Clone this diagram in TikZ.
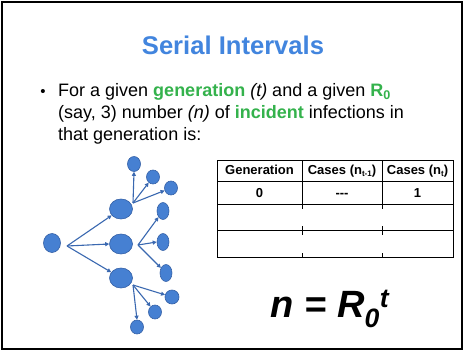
\documentclass[tikz,border=0pt]{standalone}
\usepackage{fontspec}
\setmainfont{Liberation Sans}
\usetikzlibrary{shapes.geometric,arrows.meta}
\definecolor{titleblue}{RGB}{66,133,222}
\definecolor{hlgreen}{RGB}{52,178,76}
\definecolor{nodefill}{RGB}{70,128,210}
\definecolor{nodeedge}{RGB}{52,96,166}
\definecolor{arrowblue}{RGB}{58,104,176}
\tikzset{
  person/.style={ellipse,draw=nodeedge,fill=nodefill,line width=0.6pt,inner sep=0pt},
  spread/.style={draw=arrowblue,line width=1.1pt,-{Triangle[length=4pt,width=4pt]}},
  line/.style={anchor=base west,inner sep=0pt,font=\fontsize{18}{21}\selectfont},
  cell/.style={inner sep=0pt,font=\bfseries\fontsize{13}{15}\selectfont},
  grid/.style={draw=black,line width=1pt},
}
\newcommand{\hl}[1]{\textcolor{hlgreen}{\bfseries #1}}
\newcommand{\smallsub}[1]{\raisebox{-0.25ex}{\fontsize{8}{9}\selectfont #1}}
\begin{document}
\begin{tikzpicture}[x=1pt,y=-1pt]
\useasboundingbox (0,0) rectangle (463,350);
\fill[white] (0,0) rectangle (463,350);
% slide frame
\draw[line width=2.3pt] (2.2,2.2) rectangle (461.8,348.8);

% title
\node[font=\bfseries\fontsize{25.6}{29}\selectfont,text=titleblue,anchor=base] (title) at (233,55) {Serial Intervals};

% bullet text
\node[anchor=base,inner sep=0pt,font=\fontsize{15}{17}\selectfont] (bullet) at (43,97) {•};
\node[line] (l1) at (58,97) {For a given \hl{generation} \textit{(t)} and a given \hl{R\textsubscript{0}}};
\node[line] (l2) at (58,119) {(say, 3) number \textit{(n)} of \hl{incident} infections in};
\node[line] (l3) at (58,140) {that generation is:};

% transmission tree
\node[person,minimum width=17pt,minimum height=19pt] (root) at (52,243) {};
\node[person,minimum width=23pt,minimum height=20pt] (m1) at (121,209) {};
\node[person,minimum width=23pt,minimum height=20pt] (m2) at (121,244) {};
\node[person,minimum width=23pt,minimum height=20pt] (m3) at (121,278) {};

\node[person,minimum width=13pt,minimum height=15pt] (a1) at (134,164) {};
\node[person,minimum width=13pt,minimum height=14pt] (a2) at (153,177) {};
\node[person,minimum width=13pt,minimum height=14pt] (a3) at (171,188) {};
\node[person,minimum width=12pt,minimum height=17pt] (b1) at (163,211) {};
\node[person,minimum width=12pt,minimum height=17pt] (b2) at (163,242) {};
\node[person,minimum width=12pt,minimum height=17pt] (b3) at (166,273) {};
\node[person,minimum width=14pt,minimum height=14pt] (c1) at (172,297) {};
\node[person,minimum width=13pt,minimum height=14pt] (c2) at (155,312) {};
\node[person,minimum width=13pt,minimum height=14pt] (c3) at (137,327) {};

\coordinate (h0) at (67,246);
\coordinate (h1) at (133,203);
\coordinate (h2) at (138,245);
\coordinate (h3) at (133,285);

\draw[spread] (h0) -- (m1);
\draw[spread] (h0) -- (m2.west);
\draw[spread] (h0) -- (m3);
\draw[spread] (h1) -- (a1.south);
\draw[spread] (h1) -- (a2);
\draw[spread] (h1) -- (a3);
\draw[spread] (h2) -- (b1);
\draw[spread] (h2) -- (b2.west);
\draw[spread] (h2) -- (b3);
\draw[spread] (h3) -- (c1);
\draw[spread] (h3) -- (c2);
\draw[spread] (h3) -- (c3.north);

% table
\draw[grid] (217,160) rectangle (453,257);
\draw[grid] (217,181) -- (453,181);
\draw[grid] (217,204) -- (453,204);
\draw[grid] (217,230) -- (453,230);
\foreach \x in {302,382}{
  \draw[grid] (\x,160) -- (\x,204);
  \draw[grid] (\x,204) -- (\x,208.5);
  \draw[grid] (\x,226) -- (\x,234.5);
  \draw[grid] (\x,253) -- (\x,257);
}
\node[cell,anchor=base] (h1t) at (259.5,175) {Generation};
\node[cell,anchor=base] (h2t) at (342,175) {Cases (n\smallsub{t-1})};
\node[cell,anchor=base] (h3t) at (417.5,175) {Cases (n\smallsub{t})};
\node[cell,anchor=base] (r1a) at (259.5,197.5) {0};
\node[cell,anchor=base] (r1b) at (342,197.5) {\hbox{-}\hbox{-}\hbox{-}};
\node[cell,anchor=base] (r1c) at (417.5,197.5) {1};

% growth law
\node[anchor=base,inner sep=0pt,font=\bfseries\itshape\fontsize{38}{42}\selectfont] (law) at (330,317) {n = R\textsubscript{0}\textsuperscript{t}};
\end{tikzpicture}
\end{document}
